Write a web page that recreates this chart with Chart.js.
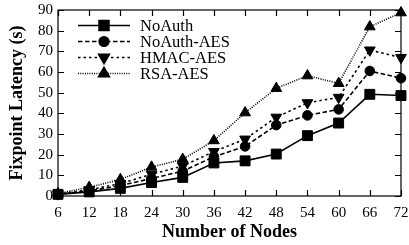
<!DOCTYPE html>
<html>
<head>
<meta charset="utf-8">
<script src="https://cdn.jsdelivr.net/npm/chart.js@4.4.0/dist/chart.umd.min.js"></script>
<style>
  html, body { margin: 0; padding: 0; background: #fff; }
  #wrap { width: 409px; height: 245px; }
</style>
</head>
<body>
<div id="wrap"><canvas id="chart"></canvas></div>
<script>
// node counts on the x axis
const nodes = [6, 12, 18, 24, 30, 36, 42, 48, 54, 60, 66, 72];

// fixpoint latency in seconds
const noAuth     = [0.8, 2, 3.7, 6.5, 9, 16, 17, 20.3, 29.2, 35.3, 49.2, 48.6];
const noAuthAes  = [0.8, 2.5, 5, 8.5, 12, 19, 24, 34.3, 39, 41.9, 60.5, 57];
const hmacAes    = [1, 3, 6, 10.5, 14.5, 21.5, 27.5, 38.1, 45.1, 47.7, 70.6, 67];
const rsaAes     = [1.2, 4.2, 8, 14, 17.8, 26.8, 40.3, 52.1, 58.2, 54.5, 81.9, 88.7];

const yTicks = [0, 10, 20, 30, 40, 50, 60, 70, 80, 90];

const font = 'Liberation Serif, Times New Roman, serif';

function series(label, values, style, dash, radius, rotation) {
    return {
        label: label,
        data: nodes.map((n, i) => ({ x: n, y: values[i] })),
        borderColor: '#000',
        backgroundColor: '#000',
        borderWidth: 1.6,
        borderDash: dash,
        pointStyle: style,
        pointRadius: radius,
        pointRotation: rotation || 0,
        pointBorderWidth: 1,
        tension: 0
    };
}

// inward tick marks on all four sides, plus the box
const frame = {
    id: 'frame',
    afterDatasetsDraw(chart) {
        const ctx = chart.ctx;
        const a = chart.chartArea;
        const xs = chart.scales.x, ys = chart.scales.y;
        ctx.save();
        ctx.strokeStyle = '#000';
        ctx.lineWidth = 1.2;
        ctx.strokeRect(a.left, a.top, a.right - a.left, a.bottom - a.top);
        ctx.beginPath();
        nodes.forEach(n => {
            const px = Math.round(xs.getPixelForValue(n)) + 0.5;
            ctx.moveTo(px, a.bottom); ctx.lineTo(px, a.bottom - 6);
            ctx.moveTo(px, a.top); ctx.lineTo(px, a.top + 6);
        });
        yTicks.forEach(v => {
            const py = Math.round(ys.getPixelForValue(v)) + 0.5;
            ctx.moveTo(a.left, py); ctx.lineTo(a.left + 6, py);
            ctx.moveTo(a.right, py); ctx.lineTo(a.right - 6, py);
        });
        ctx.stroke();
        ctx.restore();
    }
};

// legend box inside the plot, top left
const innerLegend = {
    id: 'innerLegend',
    afterDraw(chart) {
        const ctx = chart.ctx;
        const x0 = 78, x1 = 130, tx = 140;
        let y = 25.5;
        ctx.save();
        chart.data.datasets.forEach(ds => {
            ctx.strokeStyle = '#000';
            ctx.fillStyle = '#000';
            ctx.lineWidth = ds.borderWidth;
            ctx.setLineDash(ds.borderDash);
            ctx.beginPath();
            ctx.moveTo(x0, y); ctx.lineTo(x1, y);
            ctx.stroke();
            ctx.setLineDash([]);
            Chart.helpers.drawPoint(ctx, {
                pointStyle: ds.pointStyle,
                radius: ds.pointRadius,
                rotation: ds.pointRotation,
                borderWidth: 1
            }, (x0 + x1) / 2, y);
            ctx.font = '16.5px ' + font;
            ctx.textBaseline = 'middle';
            ctx.textAlign = 'left';
            ctx.fillText(ds.label, tx, y + 1);
            y += 16;
        });
        ctx.restore();
    }
};

new Chart(document.getElementById('chart'), {
    type: 'line',
    data: {
        datasets: [
            series('NoAuth', noAuth, 'rect', [], 7),
            series('NoAuth-AES', noAuthAes, 'circle', [4.5, 2.5], 4.8),
            series('HMAC-AES', hmacAes, 'triangle', [2.5, 3], 6.2, 180),
            series('RSA-AES', rsaAes, 'triangle', [1, 1.3], 6.2)
        ]
    },
    options: {
        responsive: true,
        maintainAspectRatio: false,
        animation: false,
        clip: false,
        layout: { padding: { top: 10, right: 3, left: 0, bottom: 2 } },
        plugins: { legend: { display: false }, tooltip: { enabled: false } },
        scales: {
            x: {
                type: 'linear',
                min: 6, max: 72,
                afterBuildTicks(scale) { scale.ticks = nodes.map(v => ({ value: v })); },
                afterFit(scale) { scale.height = 47; scale.paddingLeft = 0; scale.paddingRight = 0; },
                grid: { display: false, drawTicks: false },
                border: { display: false },
                ticks: { color: '#000', font: { family: font, size: 15 }, padding: 8, maxRotation: 0, autoSkip: false },
                title: { display: true, text: 'Number of Nodes', color: '#000', padding: { top: 0, bottom: 0 },
                         font: { family: font, size: 18, weight: 'bold' } }
            },
            y: {
                min: 0, max: 90,
                afterBuildTicks(scale) { scale.ticks = yTicks.map(v => ({ value: v })); },
                afterFit(scale) { scale.width = 58; scale.paddingTop = 0; scale.paddingBottom = 0; },
                grid: { display: false, drawTicks: false },
                border: { display: false },
                ticks: { color: '#000', font: { family: font, size: 15 }, padding: 5, autoSkip: false },
                title: { display: true, text: 'Fixpoint Latency (s)', color: '#000', padding: { top: 7, bottom: 0 },
                         font: { family: font, size: 18, weight: 'bold' } }
            }
        }
    },
    plugins: [frame, innerLegend]
});
</script>
</body>
</html>
